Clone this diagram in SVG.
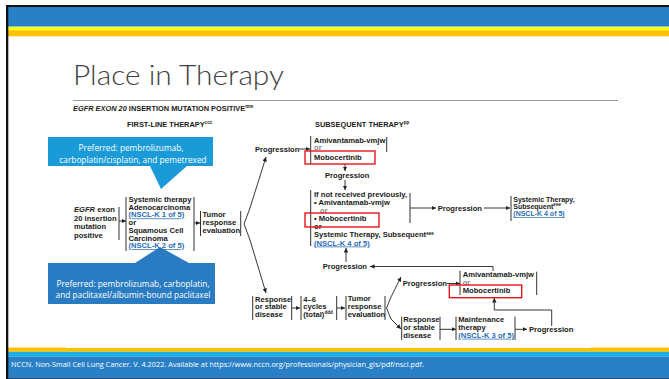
<svg xmlns="http://www.w3.org/2000/svg" width="669" height="379" viewBox="0 0 669 379">
<defs>
<marker id="ah" viewBox="0 0 6 6" refX="6" refY="3" markerWidth="4.5" markerHeight="4.5" orient="auto" markerUnits="userSpaceOnUse">
<path d="M0,0 L6,3 L0,6 Z" fill="#222"/>
</marker>
<style>
.t{font-family:"Liberation Sans",Arial,sans-serif;font-weight:bold;font-size:7.6px;fill:#1a1a1a}
.s{font-size:7px}
.lk{fill:#2a6db5;text-decoration:underline}
.g{fill:#888}
.hd{font-family:"Liberation Sans",Arial,sans-serif;font-weight:bold;font-size:7.4px;fill:#1a1a1a}
.sup{font-size:4.6px}
.bar{stroke:#333;stroke-width:1;fill:none}
.cn{stroke:#222;stroke-width:0.9;fill:none}
.ar{marker-end:url(#ah)}
.red{fill:none;stroke:#e8141c;stroke-width:1.4}
.co{font-family:"Open Sans","Noto Sans",sans-serif;font-size:8.3px;fill:#fff;text-anchor:middle}
</style>
</defs>
<rect width="669" height="379" fill="#fff"/>
<rect x="6" y="5" width="663" height="2.5" fill="#111"/>
<rect x="6" y="7" width="663" height="19.5" fill="#2a80c6"/>
<rect x="6" y="26.5" width="663" height="0.8" fill="#7cc36a"/>
<rect x="6" y="27.3" width="663" height="3" fill="#ffff00"/>
<rect x="6" y="30.3" width="663" height="6" fill="#ffc000"/>
<rect x="6" y="347.5" width="663" height="4.3" fill="#ffc000"/>
<rect x="66" y="347" width="525" height="1" fill="#fff"/>
<rect x="6" y="351.8" width="663" height="5" fill="#1eaee6"/>
<rect x="6" y="356.8" width="663" height="21" fill="#2a80c6"/>
<rect x="6" y="377.6" width="663" height="1.4" fill="#1d4f7a"/>
<rect x="6" y="5" width="2.3" height="374" fill="#111"/>
<text x="11" y="366.5" font-family="'Open Sans','Noto Sans',sans-serif" font-size="6.6" fill="#fff" textLength="413" lengthAdjust="spacingAndGlyphs">NCCN. Non-Small Cell Lung Cancer. V. 4.2022. Available at https://www.nccn.org/professionals/physician_gls/pdf/nscl.pdf.</text>
<text x="73" y="85" font-family="Lato,'Open Sans',sans-serif" font-weight="300" font-size="28" fill="#404040" textLength="211" lengthAdjust="spacingAndGlyphs">Place in Therapy</text>
<line x1="73" y1="100.5" x2="618" y2="100.5" stroke="#9a9a9a" stroke-width="1"/>
<text class="hd" x="73" y="110.5"><tspan font-style="italic">EGFR EXON 20</tspan> INSERTION MUTATION POSITIVE<tspan class="sup" dy="-2.8">mm</tspan></text>
<text class="hd" x="127" y="126.5">FIRST-LINE THERAPY<tspan class="sup" dy="-2.8">ccc</tspan></text>
<text class="hd" x="315" y="126.5">SUBSEQUENT THERAPY<tspan class="sup" dy="-2.8">pp</tspan></text>
<g id="callout-top">
<path d="M48,137 H213 V166 H187 L161,189 L150,166 H48 Z" fill="#1a9ad6"/>
<text class="co" x="131" y="151">Preferred: pembrolizumab,</text>
<text class="co" x="133" y="162.5">carboplatin/cisplatin, and pemetrexed</text>
</g>
<g id="callout-bottom">
<path d="M48,263 H135 L160,247 L189,263 H215 V304 H48 Z" fill="#2a7cc2"/>
<text class="co" x="133" y="287">Preferred: pembrolizumab, carboplatin,</text>
<text class="co" x="133" y="297.5">and paclitaxel/albumin-bound paclitaxel</text>
</g>
<g id="connectors">
<line class="cn ar" x1="119" y1="221" x2="126" y2="221"/>
<line class="cn ar" x1="194" y1="223" x2="200" y2="223"/>
<polyline class="cn" points="250,208 244,224 250,240"/>
<line class="cn ar" x1="250" y1="208" x2="266" y2="157"/>
<line class="cn ar" x1="250" y1="240" x2="266" y2="293"/>
<line class="cn ar" x1="299" y1="149" x2="310" y2="149"/>
<line class="cn ar" x1="345" y1="164" x2="345" y2="171"/>
<line class="cn ar" x1="345" y1="180" x2="345" y2="190"/>
<line class="cn ar" x1="410" y1="208" x2="436" y2="208"/>
<line class="cn ar" x1="484" y1="208" x2="510" y2="208"/>
<line class="cn ar" x1="346" y1="262" x2="346" y2="248"/>
<polyline class="cn ar" points="493,271 493,266.5 370,266.5"/>
<line class="cn ar" x1="292" y1="308" x2="300" y2="308"/>
<line class="cn ar" x1="337" y1="308" x2="345" y2="308"/>
<polyline class="cn" points="391,297 386.5,308 391,319"/>
<line class="cn ar" x1="391" y1="297" x2="401" y2="277"/>
<line class="cn ar" x1="391" y1="319" x2="401" y2="329"/>
<line class="cn ar" x1="447" y1="283.5" x2="460" y2="283.5"/>
<line class="cn ar" x1="440" y1="329.3" x2="456" y2="329.3"/>
<line class="cn ar" x1="515" y1="329.3" x2="527" y2="329.3"/>
<polyline class="cn ar" points="551.7,326 551.7,310 494.3,310 494.3,298"/>
</g>
<g id="egfr">
<text class="t" x="74" y="212"><tspan font-style="italic">EGFR</tspan> exon</text>
<text class="t" x="74" y="220.5">20 insertion</text>
<text class="t" x="74" y="229">mutation</text>
<text class="t" x="74" y="237.5">positive</text>
<line class="bar" x1="119" y1="207" x2="119" y2="240"/>
</g>
<g id="systemic">
<line class="bar" x1="126" y1="197" x2="126" y2="251"/>
<line class="bar" x1="194" y1="197" x2="194" y2="251"/>
<text class="t" x="128.5" y="202">Systemic therapy</text>
<text class="t" x="128.5" y="209.7">Adenocarcinoma</text>
<text class="t lk" x="128.5" y="217.4">(NSCL-K 1 of 5)</text>
<text class="t" x="128.5" y="225.1">or</text>
<text class="t" x="128.5" y="232.8">Squamous Cell</text>
<text class="t" x="128.5" y="240.5">Carcinoma</text>
<text class="t lk" x="128.5" y="248.2">(NSCL-K 2 of 5)</text>
</g>
<g id="tumor1">
<line class="bar" x1="200.5" y1="211" x2="200.5" y2="236"/>
<line class="bar" x1="240.7" y1="211" x2="240.7" y2="236"/>
<text class="t" x="202.5" y="217.3">Tumor</text>
<text class="t" x="202.5" y="225">response</text>
<text class="t" x="202.5" y="232.7">evaluation</text>
</g>
<g id="prog1"><text class="t" x="255" y="151.5">Progression</text></g>
<g id="mobo1">
<line class="bar" x1="310.7" y1="136" x2="310.7" y2="164"/>
<line class="bar" x1="386.7" y1="137" x2="386.7" y2="152"/>
<text class="t" x="314" y="142.7">Amivantamab-vmjw</text>
<text class="t g" x="314" y="150.3">or</text>
<text class="t" x="314" y="159.5">Mobocertinib</text>
<rect class="red" x="305" y="151" width="70" height="13"/>
</g>
<g id="prog2"><text class="t" x="325" y="178">Progression</text></g>
<g id="second">
<line class="bar" x1="310.7" y1="190" x2="310.7" y2="246"/>
<line class="bar" x1="410" y1="193" x2="410" y2="223"/>
<text class="t" x="314" y="197.3">If not received previously,</text>
<text class="t" x="314" y="205">• Amivantamab-vmjw</text>
<text class="t g" x="320" y="212.7">or</text>
<text class="t" x="314" y="221">• Mobocertinib</text>
<text class="t" x="314" y="228.7">or</text>
<text class="t" x="314" y="237.3">Systemic Therapy, Subsequent<tspan class="sup" dy="-2.8">eee</tspan></text>
<text class="t lk" x="314" y="245.5">(NSCL-K 4 of 5)</text>
<rect class="red" x="305" y="213" width="74" height="14"/>
</g>
<g id="prog3"><text class="t" x="437.7" y="210.7">Progression</text></g>
<g id="sysright">
<line class="bar" x1="511" y1="196" x2="511" y2="221"/>
<text class="t s" x="513.3" y="201.8">Systemic Therapy,</text>
<text class="t s" x="513.3" y="208.9">Subsequent<tspan class="sup" dy="-2.5">eee</tspan></text>
<text class="t s lk" x="513.3" y="216">(NSCL-K 4 of 5)</text>
</g>
<g id="prog4"><text class="t" x="322.7" y="269">Progression</text></g>
<g id="resp1">
<line class="bar" x1="252.7" y1="296" x2="252.7" y2="320"/>
<line class="bar" x1="291.7" y1="296" x2="291.7" y2="320"/>
<text class="t" x="255" y="301.7">Response</text>
<text class="t" x="255" y="309.3">or stable</text>
<text class="t" x="255" y="317">disease</text>
</g>
<g id="cycles">
<line class="bar" x1="301" y1="296" x2="301" y2="320"/>
<line class="bar" x1="336.7" y1="296" x2="336.7" y2="320"/>
<text class="t" x="303.3" y="301.7">4–6</text>
<text class="t" x="303.3" y="309.3">cycles</text>
<text class="t" x="303.3" y="317">(total)<tspan class="sup" dy="-2.8">ddd</tspan></text>
</g>
<g id="tumor2">
<line class="bar" x1="346" y1="296" x2="346" y2="320"/>
<line class="bar" x1="385" y1="296" x2="385" y2="320"/>
<text class="t" x="347.7" y="301.3">Tumor</text>
<text class="t" x="347.7" y="309">response</text>
<text class="t" x="347.7" y="316.7">evaluation</text>
</g>
<g id="prog5"><text class="t" x="402.7" y="285.5">Progression</text></g>
<g id="mobo2">
<line class="bar" x1="460" y1="270.7" x2="460" y2="295"/>
<line class="bar" x1="536.7" y1="271.7" x2="536.7" y2="295"/>
<text class="t" x="462.7" y="277">Amivantamab-vmjw</text>
<text class="t g" x="462.7" y="284.5">or</text>
<text class="t" x="462.7" y="293.3">Mobocertinib</text>
<rect class="red" x="449.3" y="285" width="72.4" height="12.7"/>
</g>
<g id="resp2">
<line class="bar" x1="401.7" y1="316.7" x2="401.7" y2="340"/>
<line class="bar" x1="440" y1="316.7" x2="440" y2="340"/>
<text class="t" x="403.3" y="322.3">Response</text>
<text class="t" x="403.3" y="330">or stable</text>
<text class="t" x="403.3" y="337.7">disease</text>
</g>
<g id="maint">
<line class="bar" x1="456" y1="316.7" x2="456" y2="340"/>
<line class="bar" x1="515" y1="316.7" x2="515" y2="340"/>
<text class="t" x="458.3" y="322.3">Maintenance</text>
<text class="t" x="458.3" y="330">therapy</text>
<text class="t lk" x="458.3" y="337.7">(NSCL-K 3 of 5)</text>
</g>
<g id="prog6"><text class="t" x="529" y="331.5">Progression</text></g>
</svg>
